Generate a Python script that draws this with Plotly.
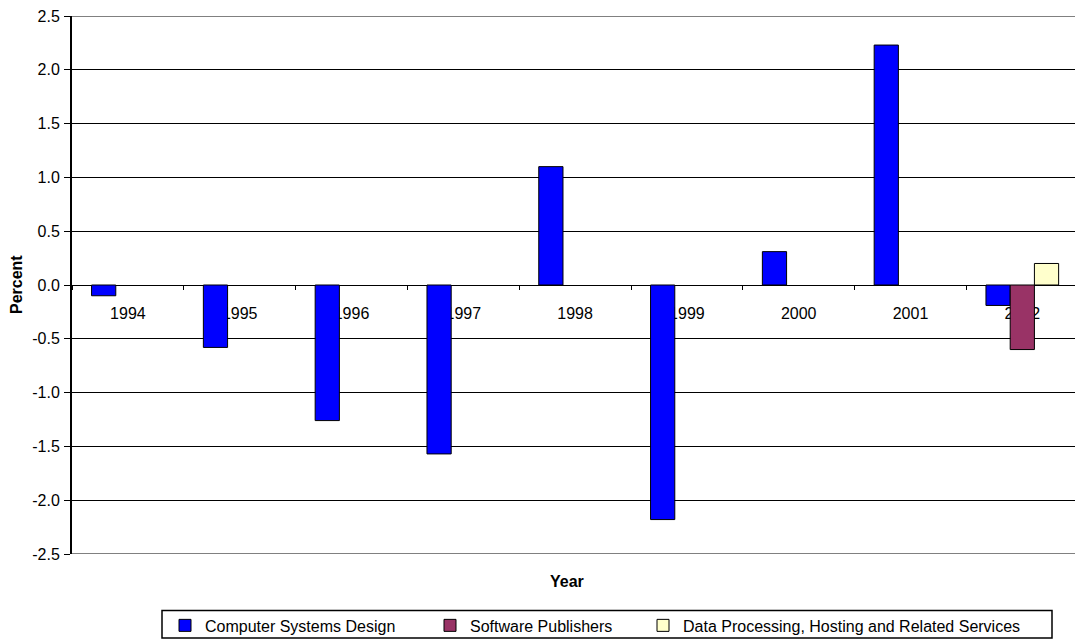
import plotly.graph_objects as go

years = ["1994", "1995", "1996", "1997", "1998", "1999", "2000", "2001", "2002"]
computer_systems = [-0.10, -0.58, -1.26, -1.57, 1.10, -2.18, 0.31, 2.23, -0.19]
software_publishers = [None, None, None, None, None, None, None, None, -0.60]
data_processing = [None, None, None, None, None, None, None, None, 0.20]

series_names = ["Computer Systems Design", "Software Publishers",
                "Data Processing, Hosting and Related Services"]
series_colors = ["#0000FF", "#993366", "#FFFFCC"]

y_tickvals = [2.5, 2.0, 1.5, 1.0, 0.5, 0.0, -0.5, -1.0, -1.5, -2.0, -2.5]
y_ticktext = ["2.5", "2.0", "1.5", "1.0", "0.5", "0.0", "-0.5", "-1.0", "-1.5", "-2.0", "-2.5"]

W, H = 1075, 643
L, R, T, B = 72, 0, 16, 85
pw = W - L - R
ph = H - T - B

def px_x(x):
    return (x - L) / pw

def px_y(y):
    return (H - B - y) / ph

FONT = "Liberation Sans, Arial, sans-serif"

fig = go.Figure()
legend_ids = ["legend", "legend2", "legend3"]
for name, vals, color, lg in zip(series_names,
                                 [computer_systems, software_publishers, data_processing],
                                 series_colors, legend_ids):
    fig.add_trace(go.Bar(
        x=years, y=vals, name=name,
        marker=dict(color=color, line=dict(color="black", width=1)),
        legend=lg,
    ))

cat_w = 111.8
fig.update_layout(
    width=W, height=H,
    margin=dict(l=L, r=R, t=T, b=B, pad=0),
    paper_bgcolor="white", plot_bgcolor="white",
    barmode="group", bargap=0.35, bargroupgap=0,
    font=dict(family=FONT, size=16, color="black"),
    xaxis=dict(
        type="category",
        range=[-0.5, -0.5 + pw / cat_w],
        anchor="free", position=0.5,
        showline=True, linecolor="black", linewidth=1,
        ticks="outside", tickson="boundaries", ticklen=4, tickcolor="black", tickwidth=1,
        showgrid=False, zeroline=False,
        layer="below traces",
        ticklabelstandoff=14,
        tickfont=dict(size=16, family=FONT),
    ),
    yaxis=dict(
        range=[-2.5, 2.5],
        tickvals=y_tickvals, ticktext=y_ticktext,
        showline=True, linecolor="black", linewidth=2,
        ticks="outside", ticklen=6, tickcolor="black", tickwidth=1,
        showgrid=True, gridcolor="black", gridwidth=1,
        zeroline=True, zerolinecolor="black", zerolinewidth=1,
        tickfont=dict(size=16, family=FONT),
        ticklabelstandoff=1,
    ),
    showlegend=True,
)

legend_item_x = [165, 430, 643]
for lg, lx in zip(legend_ids, legend_item_x):
    fig.update_layout({lg: dict(
        x=px_x(lx), y=px_y(630), xanchor="left", yanchor="middle",
        orientation="h", bgcolor="rgba(0,0,0,0)", borderwidth=0,
        font=dict(size=16, family=FONT, color="black"),
        itemwidth=30,
    )})

# plot area top/bottom gray border lines
for yy in [2.5, -2.5]:
    fig.add_shape(type="line", xref="paper", yref="y", x0=0, x1=1, y0=yy, y1=yy,
                  line=dict(color="#808080", width=2), layer="above")

# legend box
fig.add_shape(type="rect", xref="paper", yref="paper",
              x0=px_x(162), x1=px_x(1052), y0=px_y(615), y1=px_y(642.5),
              line=dict(color="black", width=1.5), fillcolor="rgba(0,0,0,0)", layer="below")

fig.add_annotation(text="<b>Percent</b>", xref="paper", yref="paper",
                   x=px_x(16), y=px_y(287), textangle=-90, showarrow=False,
                   font=dict(size=16, family=FONT), xanchor="center", yanchor="middle")
fig.add_annotation(text="<b>Year</b>", xref="paper", yref="paper",
                   x=px_x(567), y=px_y(586), showarrow=False,
                   font=dict(size=16, family=FONT), xanchor="center", yanchor="middle")

fig.write_html("out.html")
